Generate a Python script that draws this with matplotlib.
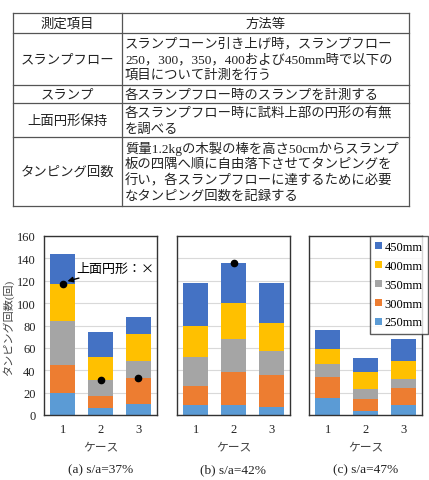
import matplotlib
matplotlib.use("Agg")
import matplotlib.pyplot as plt
import numpy as np

# --- data ---
cases = [1, 2, 3]
series = ["250mm", "300mm", "350mm", "400mm", "450mm"]
colors = ["#5B9BD5", "#ED7D31", "#A5A5A5", "#FFC000", "#4472C4"]

# cumulative heights, per panel, per series (bottom -> top)
cum_a = [[20, 6, 10], [45, 17, 33], [84, 31, 48], [117, 52, 72], [144, 74, 88]]
cum_b = [[9, 9, 7], [26, 38, 36], [52, 68, 57], [80, 100, 82], [118, 136, 118]]
cum_c = [[15, 4, 9], [34, 14, 24], [46, 23, 32], [59, 38, 48], [76, 51, 68]]

# black dots (surface circle lost)
dots_a_x = [1, 2, 3]
dots_a_y = [117, 31, 33]
dots_b_x = [2]
dots_b_y = [136]

captions = ["(a) s/a=37%", "(b) s/a=42%", "(c) s/a=47%"]

table_rows = [
    ("測定項目", ["方法等"]),
    ("スランプフロー", ["スランプコーン引き上げ時，スランプフロー",
                     "250，300，350，400および450mm時で以下の",
                     "項目について計測を行う"]),
    ("スランプ", ["各スランプフロー時のスランプを計測する"]),
    ("上面円形保持", ["各スランプフロー時に試料上部の円形の有無",
                   "を調べる"]),
    ("タンピング回数", ["質量1.2kgの木製の棒を高さ50cmからスランプ",
                     "板の四隅へ順に自由落下させてタンピングを",
                     "行い，各スランプフローに達するために必要",
                     "なタンピング回数を記録する"]),
]

FAM = ["Liberation Serif", "Noto Sans CJK JP", "DejaVu Sans"]
plt.rcParams["font.family"] = FAM

W, H = 429, 481
fig = plt.figure(figsize=(W / 100, H / 100), dpi=100)
fig.set_facecolor("white")

# --- table drawn in pixel coords ---
tax = fig.add_axes([0, 0, 1, 1])
tax.set_xlim(0, W)
tax.set_ylim(H, 0)
tax.axis("off")
tx0, tx1, tdiv = 13, 409, 122
row_lines = [13.5, 33.5, 85.5, 104, 137.5, 206.5]
lc = "#555555"
for y in row_lines:
    tax.plot([tx0, tx1], [y, y], color=lc, lw=0.9)
for x in [tx0, tdiv, tx1]:
    tax.plot([x, x], [row_lines[0], row_lines[-1]], color=lc, lw=0.9)

line_h = 15.8
for i, (head, lines) in enumerate(table_rows):
    yc = (row_lines[i] + row_lines[i + 1]) / 2 + 0.8
    tax.text((tx0 + tdiv) / 2, yc, head, ha="center", va="center", fontsize=9.6,
             color="#222222")
    n = len(lines)
    for j, ln in enumerate(lines):
        yy = yc + (j - (n - 1) / 2) * line_h
        if i == 0:
            tax.text((tdiv + tx1) / 2, yy, ln, ha="center", va="center",
                     fontsize=9.6, color="#222222")
        else:
            tax.text(tdiv + 3, yy, ln, ha="left", va="center", fontsize=9.6,
                     color="#222222")

# --- charts ---
lefts = [44, 177, 309]
ax_w = 113
bottom_px, top_px = 416, 237
panels = [cum_a, cum_b, cum_c]
x = np.array(cases)
axes = []
for k, (lp, cum) in enumerate(zip(lefts, panels)):
    ax = fig.add_axes([lp / W, (H - bottom_px) / H, ax_w / W, (bottom_px - top_px) / H])
    axes.append(ax)
    prev = np.zeros(len(cases))
    handles = []
    for s, c in enumerate(colors):
        top = np.array(cum[s], dtype=float)
        h = ax.bar(x, top - prev, bottom=prev, width=0.66, color=c, zorder=2, label=series[s])
        handles.append(h)
        prev = top
    ax.set_xlim(0.5, 3.5)
    ax.set_ylim(0, 160)
    ax.set_yticks(range(0, 161, 20))
    ax.set_xticks(cases)
    ax.grid(axis="y", color="#d9d9d9", lw=0.8, zorder=0)
    for sp in ax.spines.values():
        sp.set_color("#333333")
        sp.set_linewidth(1.0)
    ax.tick_params(length=0, labelsize=9, pad=6, colors="#222222")
    if k > 0:
        ax.set_yticklabels([])
    ax.set_xlabel("ケース", fontsize=8.5, labelpad=4, color="#444444")
    ax.text(0.5, -0.27, captions[k], transform=ax.transAxes, ha="center",
            va="top", fontsize=9.6, color="#222222")
    if k == 2:
        leg = ax.legend(handles[::-1], series[::-1], loc="upper right",
                        bbox_to_anchor=(1.05, 1.0), fontsize=9, frameon=True,
                        fancybox=False, edgecolor="#333333", handlelength=0.5,
                        handleheight=0.5, handletextpad=0.25, labelspacing=0.55,
                        borderpad=0.4, borderaxespad=0.0)
        leg.get_frame().set_linewidth(1.0)

axes[0].set_ylabel("タンピング回数(回)", fontsize=8, labelpad=2, color="#444444")
axes[0].plot(dots_a_x, dots_a_y, "o", color="black", ms=4.5, zorder=5)
axes[1].plot(dots_b_x, dots_b_y, "o", color="black", ms=4.5, zorder=5)
axes[0].annotate("上面円形：×", xy=(1.05, 119), xytext=(1.35, 131),
                 fontsize=9.4, ha="left", va="center", zorder=6,
                 family=["Noto Sans CJK JP", "DejaVu Sans"],
                 arrowprops=dict(arrowstyle="-|>", color="black", lw=1.0,
                                 mutation_scale=8, shrinkA=1, shrinkB=2))

fig.savefig("out.png", dpi=100, facecolor="white")
plt.close(fig)
